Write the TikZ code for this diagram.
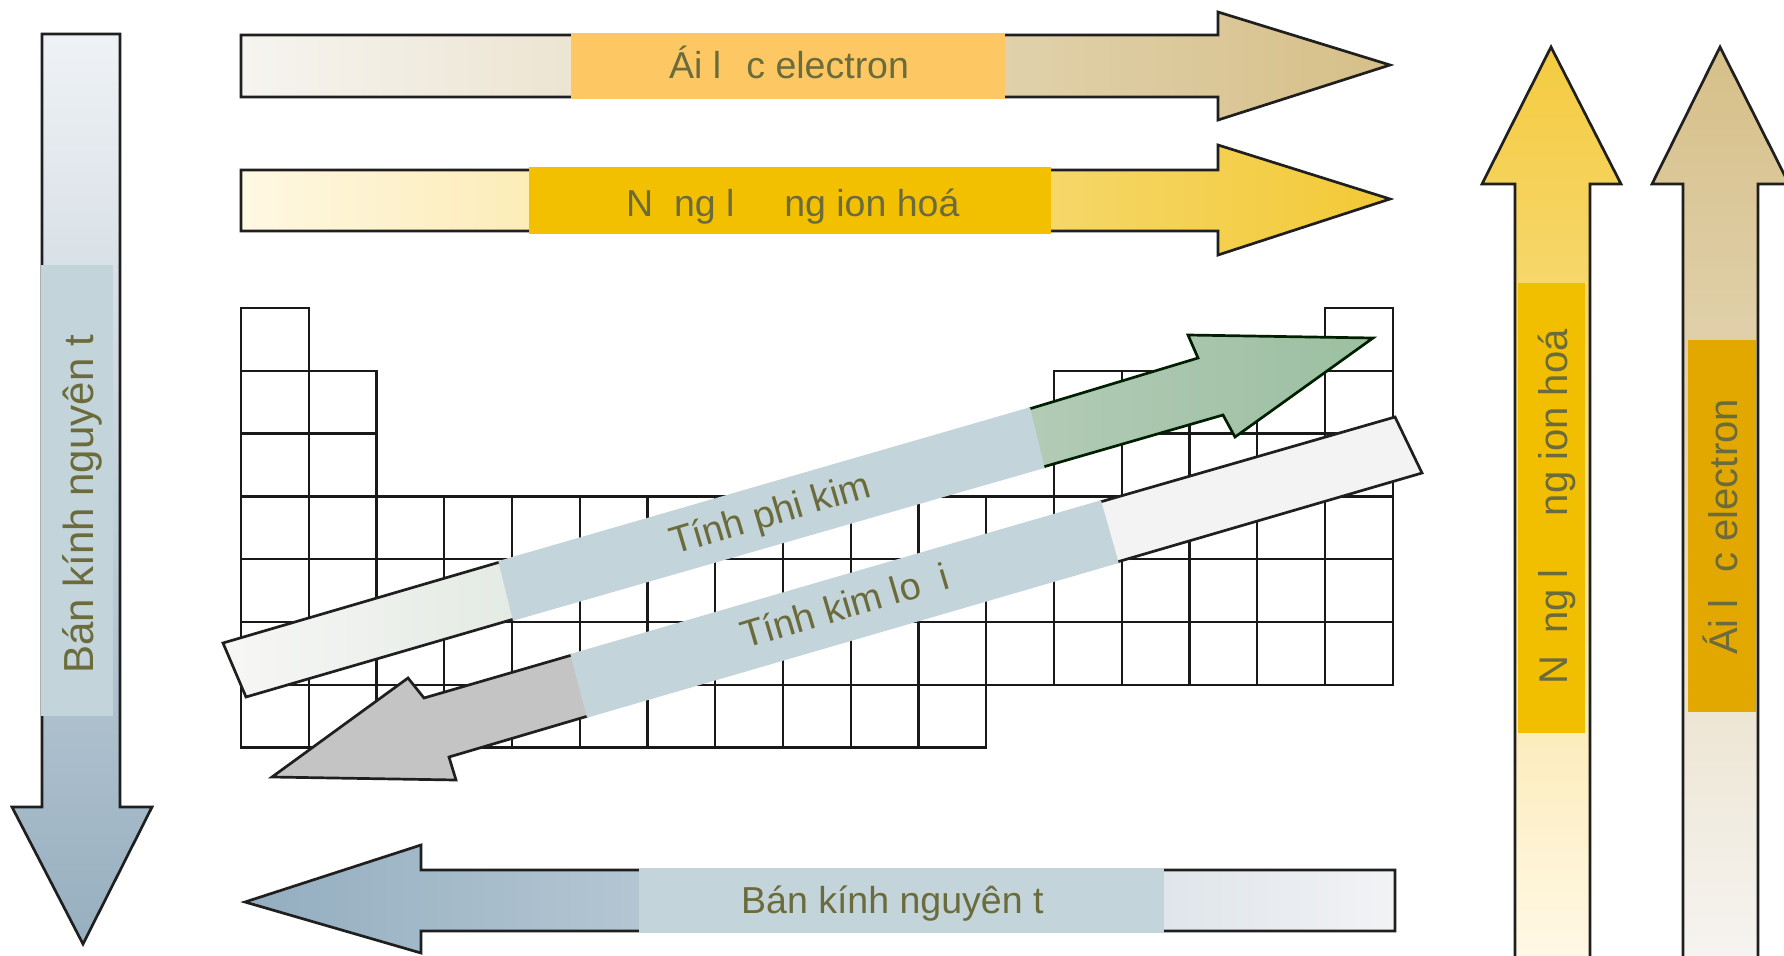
\documentclass[tikz,border=0pt]{standalone}
\usepackage{fontspec}
\setmainfont{Liberation Sans}
\definecolor{txtc}{HTML}{6B6B3B}
\definecolor{taL}{HTML}{F6F4F0}
\definecolor{taM}{HTML}{E6D9B8}
\definecolor{taR}{HTML}{D6BF88}
\definecolor{labA}{HTML}{FDC863}
\definecolor{tbL}{HTML}{FFF8E3}
\definecolor{tbM}{HTML}{F8E08A}
\definecolor{tbR}{HTML}{F2C935}
\definecolor{labB}{HTML}{F3C000}
\definecolor{lvT}{HTML}{EFF2F5}
\definecolor{lvB}{HTML}{97AFC0}
\definecolor{labS}{HTML}{C3D4DA}
\definecolor{botL}{HTML}{93AEC0}
\definecolor{botR}{HTML}{F2F3F5}
\definecolor{rAT}{HTML}{F4CB40}
\definecolor{rAB}{HTML}{FFF8E6}
\definecolor{labRA}{HTML}{F2BF00}
\definecolor{rBT}{HTML}{D6BF88}
\definecolor{rBB}{HTML}{F6F4F1}
\definecolor{labRB}{HTML}{E2A800}
\definecolor{pkTL}{HTML}{F7F7F5}
\definecolor{pkTR}{HTML}{E4EAE4}
\definecolor{pkHL}{HTML}{B2CBB6}
\definecolor{pkHR}{HTML}{9CBFA1}
\definecolor{klT}{HTML}{F3F3F3}
\definecolor{klH}{HTML}{C4C4C4}
\newcommand\pcell[2]{\draw[gridl] ({241+67.75*(#1-1)},{308+62.8*(#2-1)}) rectangle ++(67.75,62.8);}
\begin{document}
\begin{tikzpicture}[x=1pt,y=-1pt,
  outl/.style={draw=black!88, line width=2.7pt, line join=miter},
  gridl/.style={draw=black!90, line width=2.4pt},
  lblh/.style={text=txtc, font=\fontsize{37.5}{40}\selectfont, inner sep=0pt, anchor=base west},
  lblv/.style={text=txtc, font=\fontsize{40}{44}\selectfont, inner sep=0pt, anchor=base west, rotate=90},
  lbld/.style={text=txtc, font=\fontsize{38}{40}\selectfont, inner sep=0pt, anchor=base west, rotate=16.5},
]
\useasboundingbox (0,0) rectangle (1784,955);
\fill[white] (0,0) rectangle (1784,955);

% periodic table grid
\foreach \c in {1,17}{\pcell{\c}{1}}
\foreach \r in {2,3}{\foreach \c in {1,2,13,14,15,16,17}{\pcell{\c}{\r}}}
\foreach \r in {4,5,6}{\foreach \c in {1,...,17}{\pcell{\c}{\r}}}
\foreach \c in {1,...,11}{\pcell{\c}{7}}

% top arrow 1 : Ai luc electron
\shade[left color=taL, middle color=taM, right color=taR] (241,35) -- (1218,35) -- (1218,12) -- (1390,65) -- (1218,120) -- (1218,97) -- (241,97) -- cycle;
\draw[outl] (241,35) -- (1218,35) -- (1218,12) -- (1390,65) -- (1218,120) -- (1218,97) -- (241,97) -- cycle;
\fill[labA] (571,33) rectangle (1005,99);
\node[lblh] (t1) at (669,79) {Ái l\phantom{ự}c electron};

% top arrow 2 : Nang luong ion hoa
\shade[left color=tbL, middle color=tbM, right color=tbR] (241,170) -- (1218,170) -- (1218,145) -- (1390,199) -- (1218,255) -- (1218,231) -- (241,231) -- cycle;
\draw[outl] (241,170) -- (1218,170) -- (1218,145) -- (1390,199) -- (1218,255) -- (1218,231) -- (241,231) -- cycle;
\fill[labB] (529,167) rectangle (1051,234);
\node[lblh] (t2) at (626,216) {N\phantom{ă}ng l\phantom{ượ}ng ion hoá};

% left vertical arrow : Ban kinh nguyen tu
\shade[top color=lvT, bottom color=lvB] (42,34) -- (120,34) -- (120,807) -- (152,807) -- (83,944) -- (12,807) -- (42,807) -- cycle;
\draw[outl] (42,34) -- (120,34) -- (120,807) -- (152,807) -- (83,944) -- (12,807) -- (42,807) -- cycle;
\fill[labS] (41,265) rectangle (113,716);
\node[lblv, font=\fontsize{42}{44}\selectfont] (tl) at (93,674) {Bán kính nguyên t\phantom{ử}};

% bottom arrow : Ban kinh nguyen tu
\shade[left color=botL, right color=botR] (1395,870) -- (421,870) -- (421,845) -- (245,902) -- (421,953) -- (421,931) -- (1395,931) -- cycle;
\draw[outl] (1395,870) -- (421,870) -- (421,845) -- (245,902) -- (421,953) -- (421,931) -- (1395,931) -- cycle;
\fill[labS] (639,868) rectangle (1164,933);
\node[lblh] (tb) at (741,913) {Bán kính nguyên t\phantom{ử}};

% right arrow 1 : Nang luong ion hoa
\shade[top color=rAT, bottom color=rAB] (1515,960) -- (1515,184) -- (1482,184) -- (1551,47) -- (1621,184) -- (1590,184) -- (1590,960) -- cycle;
\draw[outl] (1515,960) -- (1515,184) -- (1482,184) -- (1551,47) -- (1621,184) -- (1590,184) -- (1590,960);
\fill[labRA] (1518,283) rectangle (1585,733);
\node[lblv] (tr1) at (1567,685) {N\phantom{ă}ng l\phantom{ượ}ng ion hoá};

% right arrow 2 : Ai luc electron
\shade[top color=rBT, bottom color=rBB] (1683,960) -- (1683,184) -- (1652,184) -- (1720,47) -- (1789,184) -- (1758,184) -- (1758,960) -- cycle;
\draw[outl] (1683,960) -- (1683,184) -- (1652,184) -- (1720,47) -- (1789,184) -- (1758,184) -- (1758,960);
\fill[labRB] (1688,340) rectangle (1756,712);
\node[lblv] (tr2) at (1737,655) {Ái l\phantom{ự}c electron};

% diagonal arrow : Tinh phi kim
\shade[left color=pkTL, right color=pkTR] (223,643) -- (500,562) -- (514,619) -- (246,697) -- cycle;
\draw[outl] (500,562) -- (223,643) -- (246,697) -- (514,619);
\shade[left color=pkHL, right color=pkHR] (1029,409) -- (1198,358) -- (1188,335) -- (1373,338) -- (1235,437) -- (1223,415) -- (1043,467) -- cycle;
\draw[outl, draw=black!70!green!40!black] (1029,409) -- (1198,358) -- (1188,335) -- (1373,338) -- (1235,437) -- (1223,415) -- (1043,467);
\filldraw[fill=labS, draw=labS, line width=2.8pt] (500,562) -- (1029,409) -- (1043,467) -- (514,619) -- cycle;
\node[lbld] (tpk) at (674,555) {Tính phi kim};

% diagonal arrow : Tinh kim loai
\fill[klT] (1395,417) -- (1422,473) -- (1117,562) -- (1100,502) -- cycle;
\draw[outl] (1100,502) -- (1395,417) -- (1422,473) -- (1117,562);
\fill[klH] (572,655) -- (424,698) -- (408,678) -- (272,777) -- (456,780) -- (449,757) -- (588,716) -- cycle;
\draw[outl] (572,655) -- (424,698) -- (408,678) -- (272,777) -- (456,780) -- (449,757) -- (588,716);
\filldraw[fill=labS, draw=labS, line width=2.8pt] (1100,502) -- (1117,562) -- (588,716) -- (572,655) -- cycle;
\node[lbld] (tkl) at (745,649) {Tính kim lo\phantom{ạ}i};
\end{tikzpicture}
\end{document}
